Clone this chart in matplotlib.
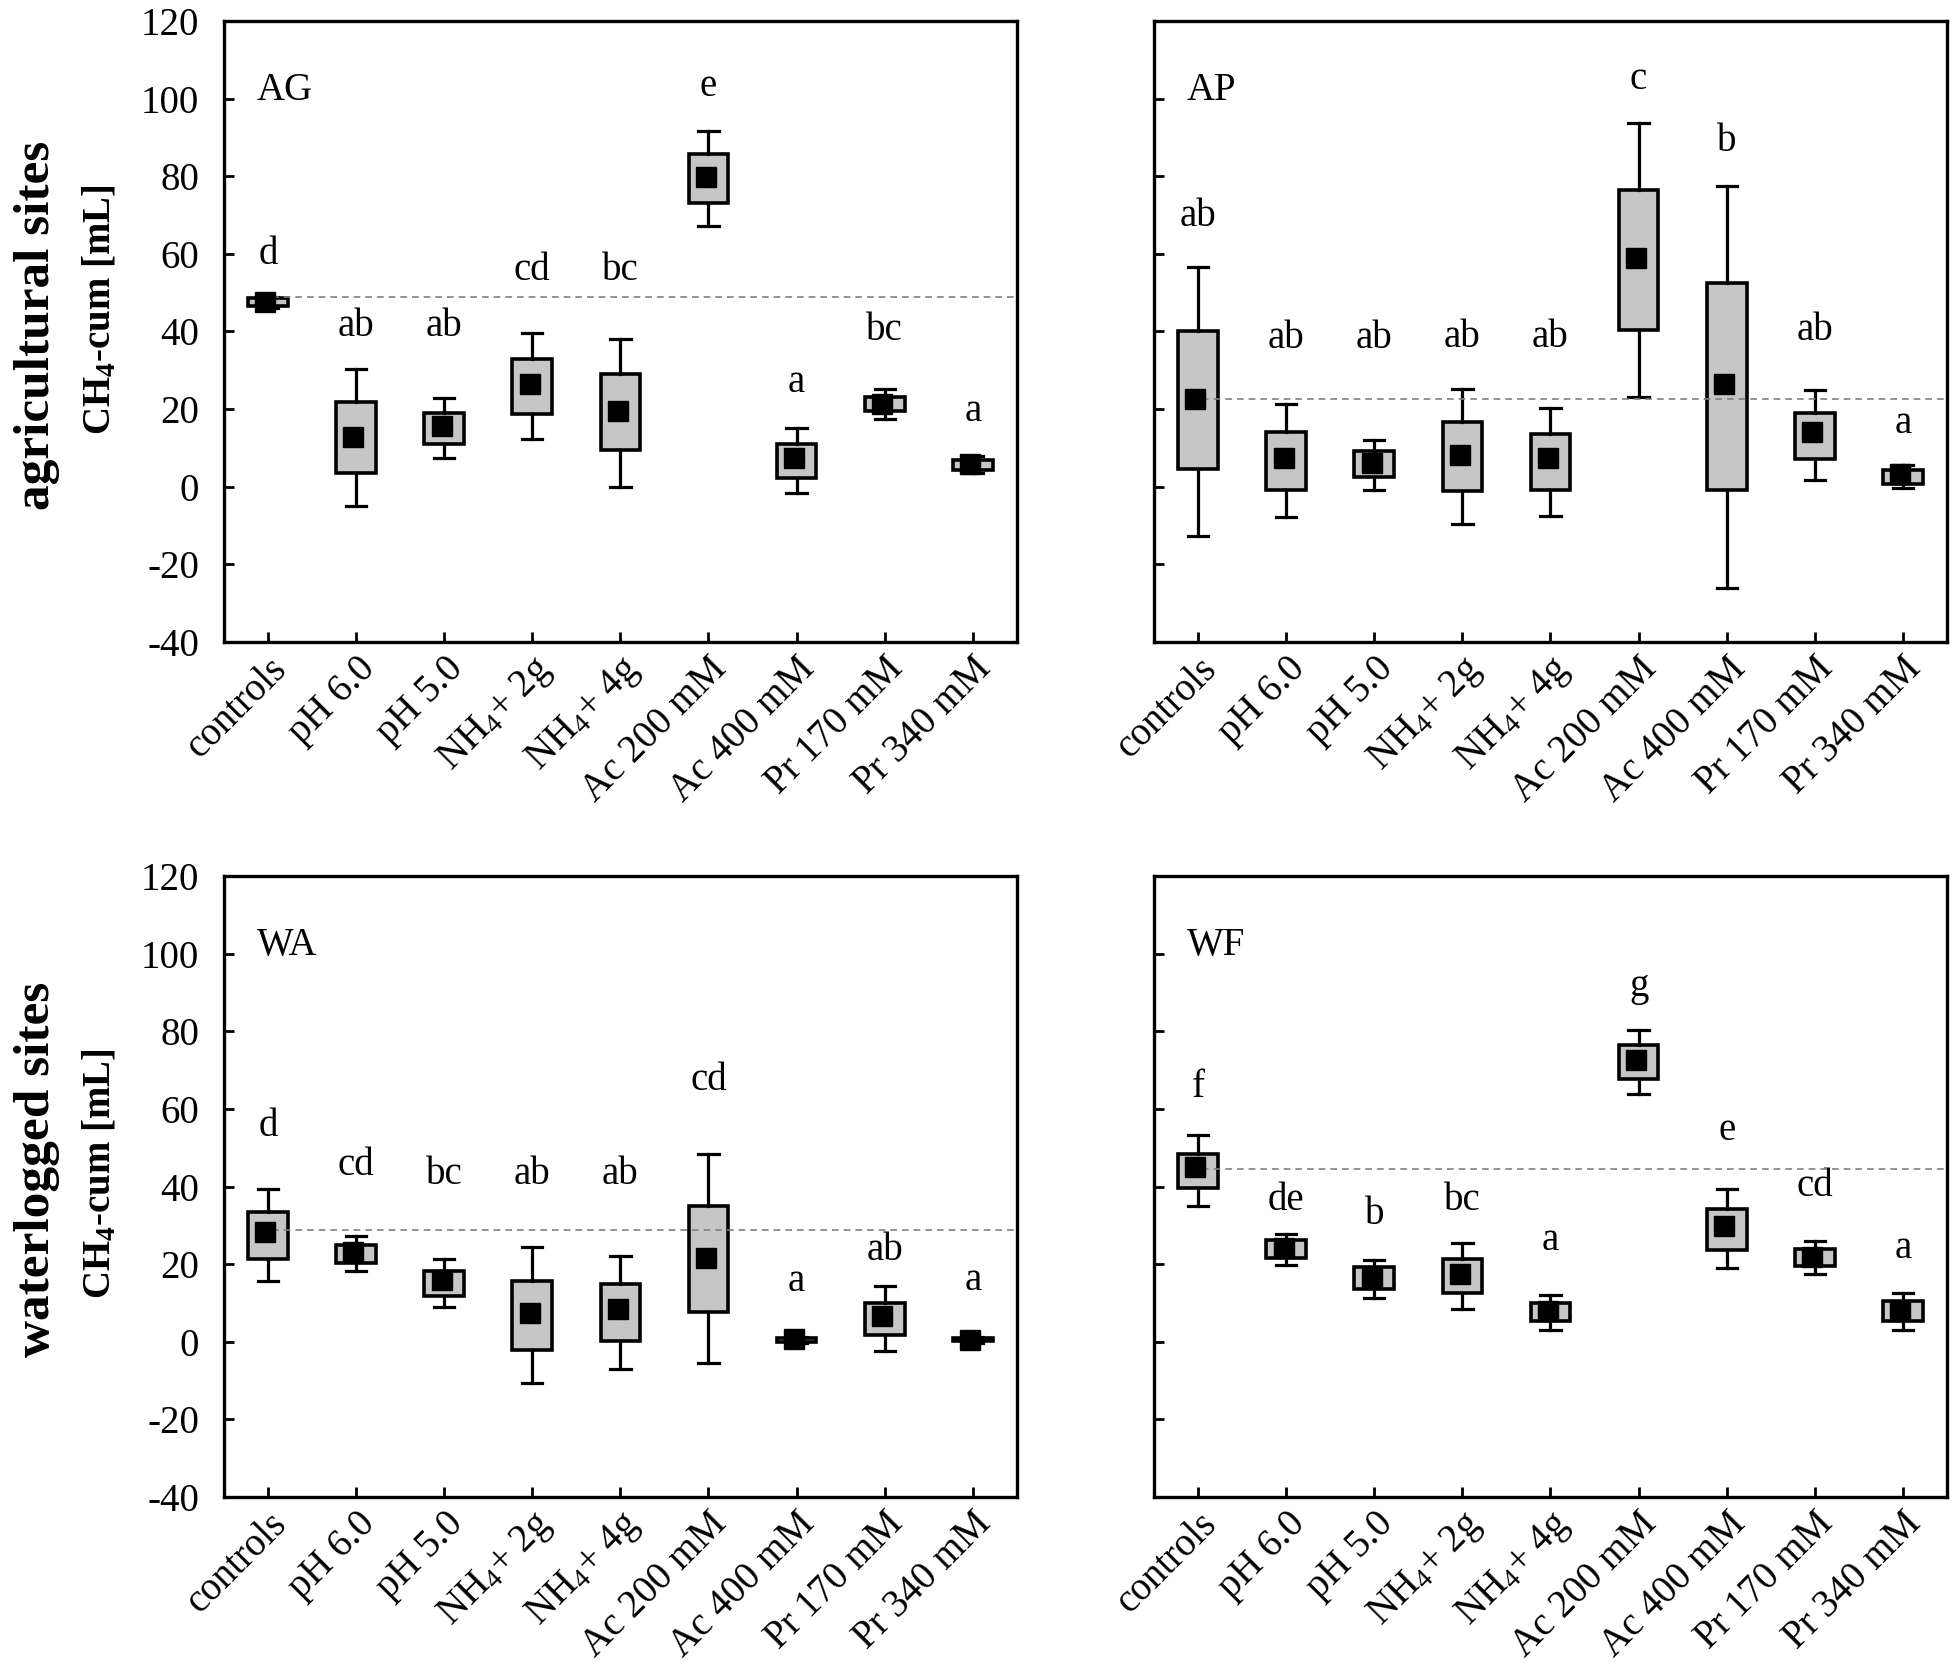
import numpy as np
import matplotlib.pyplot as plt
from matplotlib.transforms import ScaledTranslation

plt.rcParams['font.family'] = ['Liberation Serif', 'DejaVu Serif']
plt.rcParams['mathtext.fontset'] = 'custom'
plt.rcParams['mathtext.rm'] = 'Liberation Serif'
plt.rcParams['mathtext.bf'] = 'Liberation Serif:bold'
plt.rcParams['mathtext.default'] = 'regular'
plt.rcParams['axes.unicode_minus'] = False

categories = ['controls', 'pH 6.0', 'pH 5.0', 'NH$_4$+ 2g', 'NH$_4$+ 4g',
              'Ac 200 mM', 'Ac 400 mM', 'Pr 170 mM', 'Pr 340 mM']
yticks = [-40, -20, 0, 20, 40, 60, 80, 100, 120]

# AG - agricultural site (top left)
ag_lo = [46.0, -5.0, 7.4, 12.3, 0.0, 67.2, -1.7, 17.4, 3.6]
ag_q1 = [46.5, 3.6, 11.0, 18.7, 9.4, 73.0, 2.3, 19.4, 4.4]
ag_med = [47.5, 12.8, 15.6, 26.4, 19.4, 79.9, 7.4, 21.4, 5.8]
ag_q3 = [48.5, 21.8, 19.1, 33.0, 29.0, 85.8, 10.9, 23.0, 6.9]
ag_hi = [49.0, 30.4, 22.8, 39.7, 38.1, 91.7, 15.0, 25.2, 8.0]
ag_letters = ['d', 'ab', 'ab', 'cd', 'bc', 'e', 'a', 'bc', 'a']
ag_letter_y = [59.7, 41.2, 41.2, 55.6, 55.6, 103.2, 26.8, 40.3, 19.4]
ag_ref = 49.0

# AP - agricultural site (top right)
ap_lo = [-12.7, -7.9, -0.8, -9.7, -7.5, 23.0, -26.1, 1.8, -0.3]
ap_q1 = [4.6, -0.9, 2.6, -1.1, -0.8, 40.3, -0.8, 7.1, 0.8]
ap_med = [22.6, 7.3, 6.2, 8.2, 7.3, 59.0, 26.4, 14.0, 3.2]
ap_q3 = [40.0, 14.1, 9.2, 16.7, 13.7, 76.5, 52.5, 18.9, 4.2]
ap_hi = [56.7, 21.3, 11.9, 25.1, 20.3, 93.6, 77.6, 24.8, 5.5]
ap_letters = ['ab', 'ab', 'ab', 'ab', 'ab', 'c', 'b', 'ab', 'a']
ap_letter_y = [69.5, 38.1, 38.1, 38.5, 38.5, 104.9, 89.0, 40.3, 16.3]
ap_ref = 22.6

# WA - waterlogged site (bottom left)
wa_lo = [15.6, 18.2, 8.9, -10.7, -6.9, -5.4, -0.3, -2.4, -0.2]
wa_q1 = [21.4, 20.2, 11.7, -2.0, 0.2, 7.8, 0.0, 1.8, 0.1]
wa_med = [28.4, 23.2, 15.9, 7.4, 8.4, 21.7, 0.6, 6.6, 0.5]
wa_q3 = [33.5, 25.0, 18.2, 15.6, 14.9, 34.9, 1.0, 10.1, 0.9]
wa_hi = [39.4, 27.2, 21.4, 24.4, 22.0, 48.4, 1.3, 14.4, 1.2]
wa_letters = ['d', 'cd', 'bc', 'ab', 'ab', 'cd', 'a', 'ab', 'a']
wa_letter_y = [55.5, 45.4, 43.0, 43.0, 43.0, 67.2, 15.6, 23.5, 15.9]
wa_ref = 28.9

# WF - waterlogged site (bottom right)
wf_lo = [35.1, 19.8, 11.2, 8.4, 3.0, 63.8, 18.9, 17.4, 3.0]
wf_q1 = [39.6, 21.6, 13.5, 12.6, 5.4, 67.6, 23.7, 19.6, 5.4]
wf_med = [45.1, 24.1, 16.8, 17.4, 7.9, 72.5, 29.8, 21.9, 7.9]
wf_q3 = [48.5, 26.1, 19.2, 21.4, 9.9, 76.6, 34.2, 23.8, 10.5]
wf_hi = [53.3, 27.9, 21.1, 25.5, 12.1, 80.3, 39.4, 25.9, 12.6]
wf_letters = ['f', 'de', 'b', 'bc', 'a', 'g', 'e', 'cd', 'a']
wf_letter_y = [65.6, 36.4, 32.8, 36.4, 26.1, 91.5, 54.5, 39.9, 24.1]
wf_ref = 44.5

FS = 28


def draw_panel(ax, lo, q1, med, q3, hi, letters, letter_y, ref, name, left=True):
    pos = np.arange(1, len(categories) + 1)
    stats = [dict(whislo=a, q1=b, med=c, q3=d, whishi=e)
             for a, b, c, d, e in zip(lo, q1, med, q3, hi)]
    ax.bxp(stats, positions=pos, widths=0.45, capwidths=0.23,
           patch_artist=True, showfliers=False, manage_ticks=False,
           boxprops=dict(facecolor='#c6c6c6', edgecolor='black', linewidth=2.6),
           whiskerprops=dict(color='black', linewidth=2.3),
           capprops=dict(color='black', linewidth=2.3),
           medianprops=dict(linewidth=0))
    ax.plot([1.05, 9.5], [ref, ref], linestyle=(0, (4, 3)), color='#808080',
            linewidth=1.2, zorder=4)
    ax.plot(pos - 0.03, med, 's', color='black', markersize=15, zorder=5)
    for x, t, y in zip(pos, letters, letter_y):
        ax.text(x, y, t, ha='center', va='center', fontsize=FS)
    ax.text(0.87, 102, name, ha='left', va='center', fontsize=FS)

    ax.set_xlim(0.5, 9.5)
    ax.set_ylim(-40, 120)
    ax.set_yticks(yticks)
    ax.set_xticks(pos)
    ax.set_xticklabels(categories, rotation=45, ha='right', va='top',
                       rotation_mode='anchor', fontsize=FS)
    shift = ScaledTranslation(-12 / 72, 0, ax.figure.dpi_scale_trans)
    for lab in ax.get_xticklabels():
        lab.set_transform(lab.get_transform() + shift)
    ax.tick_params(axis='both', direction='in', length=7, width=2,
                   labelsize=FS, top=False, right=False)
    ax.tick_params(axis='x', pad=6)
    ax.tick_params(axis='y', pad=18, labelleft=left)
    for s in ax.spines.values():
        s.set_linewidth(2.4)


fig = plt.figure(figsize=(19.54, 16.63), dpi=100)
w, h = 0.4058, 0.3734
ax1 = fig.add_axes([0.1146, 0.6140, w, h])
ax2 = fig.add_axes([0.5906, 0.6140, w, h])
ax3 = fig.add_axes([0.1146, 0.0998, w, h])
ax4 = fig.add_axes([0.5906, 0.0998, w, h])

draw_panel(ax1, ag_lo, ag_q1, ag_med, ag_q3, ag_hi, ag_letters, ag_letter_y, ag_ref, 'AG')
draw_panel(ax2, ap_lo, ap_q1, ap_med, ap_q3, ap_hi, ap_letters, ap_letter_y, ap_ref, 'AP', left=False)
draw_panel(ax3, wa_lo, wa_q1, wa_med, wa_q3, wa_hi, wa_letters, wa_letter_y, wa_ref, 'WA')
draw_panel(ax4, wf_lo, wf_q1, wf_med, wf_q3, wf_hi, wf_letters, wf_letter_y, wf_ref, 'WF', left=False)

for ax, site, yc, ys in [(ax1, 'agricultural sites', 0.535, 0.51),
                         (ax3, 'waterlogged sites', 0.52, 0.528)]:
    ax.text(-0.156, yc, 'CH$_4$-cum [mL]', transform=ax.transAxes, rotation=90,
            ha='center', va='center', fontsize=28, fontweight='bold')
    ax.text(-0.236, ys, site, transform=ax.transAxes, rotation=90,
            ha='center', va='center', fontsize=37, fontweight='bold')

fig.savefig('out.png', dpi=100)
